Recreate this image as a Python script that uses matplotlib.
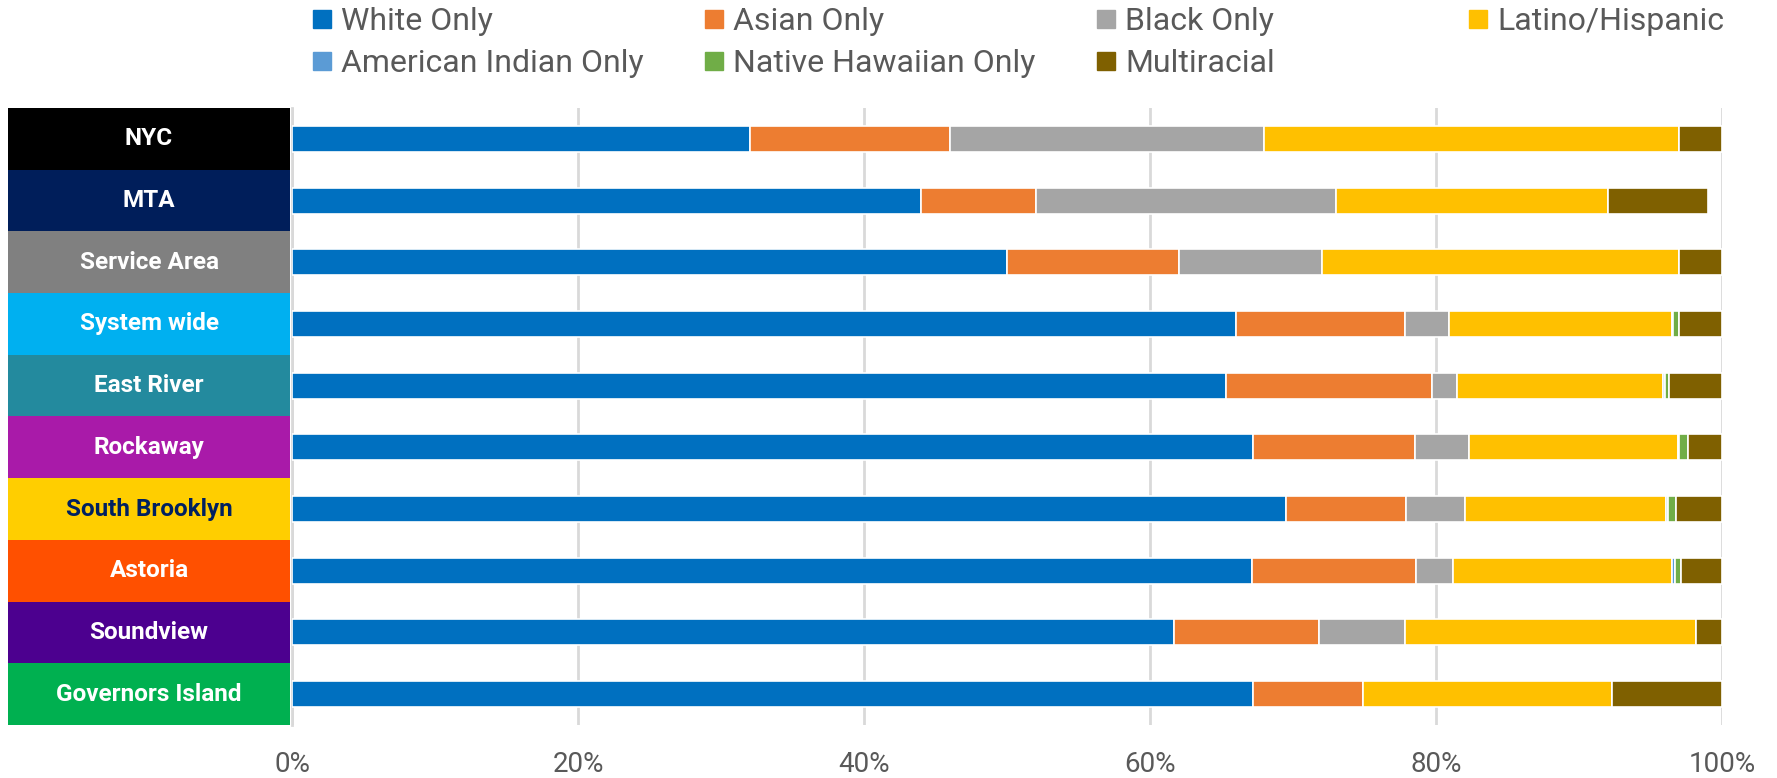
import matplotlib.pyplot as plt
import numpy as np
from matplotlib.lines import Line2D

plt.rcParams['font.family'] = ['Roboto', 'DejaVu Sans']

areas = ["NYC", "MTA", "Service Area", "System wide", "East River", "Rockaway",
         "South Brooklyn", "Astoria", "Soundview", "Governors Island"]
area_colors = ["#000000", "#001E5A", "#808080", "#00B0F0", "#238A9E", "#A91AA9",
               "#FFCE00", "#FF5000", "#4C008F", "#00B050"]
area_text = ["white"] * 6 + ["#002060"] + ["white"] * 3

groups = ["White Only", "Asian Only", "Black Only", "Latino/Hispanic",
          "American Indian Only", "Native Hawaiian Only", "Multiracial"]
group_colors = ["#0070C0", "#ED7D31", "#A5A5A5", "#FFC000", "#5B9BD5", "#70AD47", "#7F6000"]

# percent of population, one list per group, in the order of areas
white = [32, 44, 50, 66.0, 65.3, 67.2, 69.5, 67.1, 61.7, 67.2]
asian = [14, 8, 12, 11.8, 14.4, 11.3, 8.4, 11.5, 10.1, 7.7]
black = [22, 21, 10, 3.1, 1.8, 3.8, 4.1, 2.6, 6.0, 0]
latino = [29, 19, 25, 15.6, 14.4, 14.6, 14.1, 15.3, 20.4, 17.4]
am_indian = [0, 0, 0, 0.1, 0.1, 0.1, 0.1, 0.2, 0, 0]
hawaiian = [0, 0, 0, 0.4, 0.3, 0.6, 0.6, 0.4, 0, 0]
multi = [3, 7, 3, 3.0, 3.7, 2.4, 3.2, 2.9, 1.8, 7.7]
series = [white, asian, black, latino, am_indian, hawaiian, multi]

W, H = 1777, 778
fig = plt.figure(figsize=(W / 100, H / 100), dpi=100)

ax = fig.add_axes([292 / W, 53 / H, 1430 / W, 617 / H])
y = np.arange(len(areas))
left = np.zeros(len(areas))
for vals, col in zip(series, group_colors):
    ax.barh(y, vals, left=left, height=0.42, color=col, edgecolor="white", linewidth=1.2, zorder=3)
    left += np.array(vals)

ax.set_xlim(0, 100)
ax.set_ylim(len(areas) - 0.5, -0.5)
ax.set_xticks([0, 20, 40, 60, 80, 100])
ax.set_xticklabels([f"{t}%" for t in [0, 20, 40, 60, 80, 100]])
ax.set_yticks([])
ax.tick_params(axis="x", length=0, pad=19, labelsize=20, labelcolor="#595959")
ax.grid(axis="x", color="#D9D9D9", linewidth=2, zorder=0)
for s in ["top", "right", "bottom"]:
    ax.spines[s].set_visible(False)
ax.spines["left"].set_color("#D9D9D9")
ax.spines["left"].set_linewidth(2)

# coloured label boxes on the left
lab = fig.add_axes([8 / W, 53 / H, 282 / W, 617 / H])
lab.barh(y, [1] * len(areas), height=1.0, color=area_colors)
lab.set_xlim(0, 1)
lab.set_ylim(len(areas) - 0.5, -0.5)
lab.axis("off")
for i, name in enumerate(areas):
    lab.text(0.5, i, name, ha="center", va="center", color=area_text[i],
             fontsize=17.5, fontweight="bold")

# legend: 4 columns, 2 rows, each column its own legend
col_x = [309, 701, 1093, 1465]
cols = [[0, 4], [1, 5], [2, 6], [3]]
for cx, idx in zip(col_x, cols):
    handles = [Line2D([], [], marker="s", linestyle="none", markersize=13,
                      markerfacecolor=group_colors[k], markeredgecolor=group_colors[k]) for k in idx]
    leg = fig.legend(handles, [groups[k] for k in idx], loc="upper left",
                     bbox_to_anchor=(cx / W, 1 - 7 / H), frameon=False, fontsize=23,
                     labelcolor="#595959", handletextpad=0.2, handlelength=0.8,
                     labelspacing=0.4, borderpad=0, borderaxespad=0)

fig.savefig("out.png", dpi=100)
